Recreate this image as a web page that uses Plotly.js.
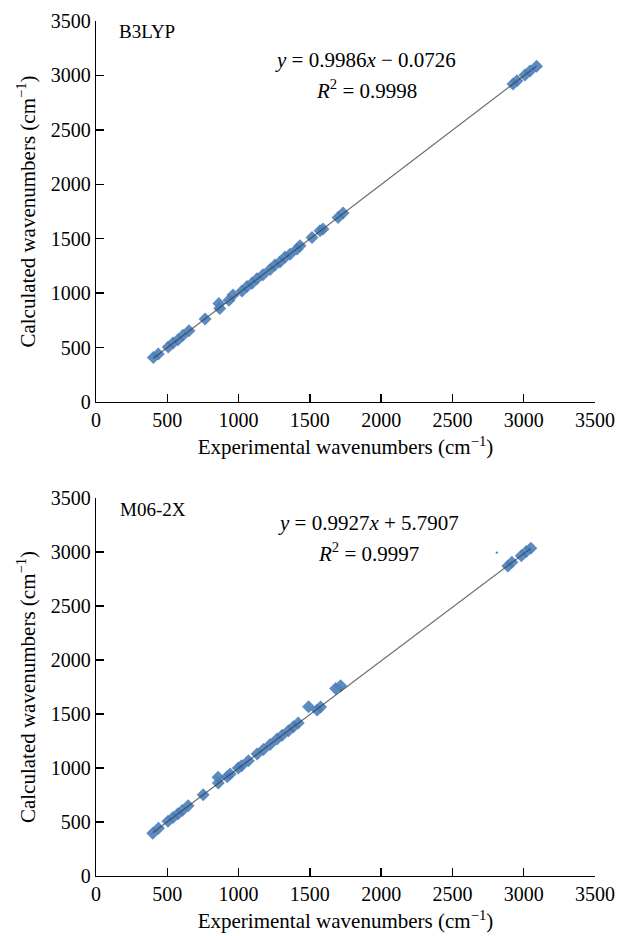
<!DOCTYPE html>
<html>
<head>
<meta charset="utf-8">
<script src="https://cdn.plot.ly/plotly-3.0.1.min.js"></script>
<style>html,body{margin:0;padding:0;background:#fff;}#chart{width:634px;height:936px;}</style>
</head>
<body>
<div id="chart"></div>
<script>
// B3LYP: experimental vs calculated wavenumbers (cm^-1)
const b3lypExp  = [402, 437, 507, 540, 575, 610, 652, 765, 862, 868, 933, 961, 1024, 1059, 1094, 1129, 1171, 1221, 1255, 1290, 1325, 1361, 1410, 1431, 1515, 1571, 1592, 1698, 1733, 2925, 2953, 3009, 3044, 3090];
const b3lypCalc = [408, 440, 505, 543, 572, 612, 655, 762, 905, 858, 935, 982, 1020, 1062, 1090, 1131, 1170, 1217, 1258, 1285, 1330, 1358, 1405, 1436, 1512, 1574, 1590, 1695, 1736, 2922, 2950, 3004, 3040, 3085];
// M06-2X
const m062xExp  = [398, 438, 505, 540, 575, 605, 646, 752, 856, 858, 920, 941, 998, 1021, 1069, 1130, 1174, 1221, 1270, 1306, 1350, 1385, 1418, 1491, 1551, 1575, 1681, 1716, 2889, 2917, 2983, 3018, 3050];
const m062xCalc = [396, 441, 508, 541, 576, 607, 650, 752, 915, 860, 920, 945, 1000, 1020, 1068, 1130, 1172, 1218, 1268, 1303, 1345, 1382, 1416, 1568, 1538, 1565, 1735, 1762, 2870, 2905, 2966, 3004, 3034];
const m062xStray = {x: [2811], y: [2994]};
// Linear fits (slope, intercept, R^2)
const fitB3lyp = {slope: 0.9986, intercept: -0.0726, r2: '0.9998', eq: '<i>y</i> = 0.9986<i>x</i> − 0.0726'};
const fitM062x = {slope: 0.9927, intercept: 5.7907, r2: '0.9997', eq: '<i>y</i> = 0.9927<i>x</i> + 5.7907'};
const axisTicks = [0, 500, 1000, 1500, 2000, 2500, 3000, 3500];
const methodLabels = ['B3LYP', 'M06-2X'];

const blue = '#4a7ebb';
const serif = '"Liberation Serif", "DejaVu Serif", serif';

function fitLine(xs, fit) {
  const lo = Math.min(...xs), hi = Math.max(...xs);
  return [[lo, hi], [fit.slope * lo + fit.intercept, fit.slope * hi + fit.intercept]];
}
const lb = fitLine(b3lypExp, fitB3lyp);
const lm = fitLine(m062xExp, fitM062x);

const markerStyle = {symbol: 'diamond', size: 10, color: blue, opacity: 0.9, line: {width: 0}};
const traces = [
  {x: b3lypExp, y: b3lypCalc, type: 'scatter', mode: 'markers', marker: markerStyle, xaxis: 'x', yaxis: 'y', showlegend: false},
  {x: lb[0], y: lb[1], type: 'scatter', mode: 'lines', line: {color: 'rgba(60,60,60,0.75)', width: 1.2}, xaxis: 'x', yaxis: 'y', showlegend: false},
  {x: m062xExp, y: m062xCalc, type: 'scatter', mode: 'markers', marker: markerStyle, xaxis: 'x2', yaxis: 'y2', showlegend: false},
  {x: m062xStray.x, y: m062xStray.y, type: 'scatter', mode: 'markers', marker: {symbol: 'square', size: 2, color: blue}, xaxis: 'x2', yaxis: 'y2', showlegend: false},
  {x: lm[0], y: lm[1], type: 'scatter', mode: 'lines', line: {color: 'rgba(60,60,60,0.75)', width: 1.2}, xaxis: 'x2', yaxis: 'y2', showlegend: false}
];

const xTitle = 'Experimental wavenumbers (cm<sup>−1</sup>)';
const yTitle = 'Calculated wavenumbers (cm<sup>−1</sup>)';
function ax(extra) {
  return Object.assign({
    range: [0, 3500], tickvals: axisTicks, ticktext: axisTicks.map(String),
    showgrid: false, zeroline: false, showline: true, linecolor: '#000', linewidth: 1.3,
    ticks: 'inside', ticklen: 8, tickwidth: 1.3, tickcolor: '#000',
    tickfont: {family: serif, size: 20, color: '#000'}, fixedrange: true
  }, extra);
}
const titleFont = {family: serif, size: 21, color: '#000'};

const layout = {
  width: 634, height: 936,
  margin: {l: 96, r: 39, t: 21, b: 60},
  paper_bgcolor: '#fff', plot_bgcolor: '#fff',
  font: {family: serif, color: '#000'},
  xaxis: ax({anchor: 'y', domain: [0, 1], title: {text: xTitle, font: titleFont, standoff: 9}}),
  yaxis: ax({anchor: 'x', domain: [0.5544, 1], title: {text: yTitle, font: titleFont, standoff: 9}}),
  xaxis2: ax({anchor: 'y2', domain: [0, 1], title: {text: xTitle, font: titleFont, standoff: 9}}),
  yaxis2: ax({anchor: 'x2', domain: [0, 0.4421], title: {text: yTitle, font: titleFont, standoff: 9}}),
  annotations: [
    {xref: 'x', yref: 'y', x: 145, y: 3408, text: methodLabels[0], showarrow: false, xanchor: 'left', font: {family: serif, size: 19}},
    {xref: 'x', yref: 'y', x: 1887, y: 3142, text: fitB3lyp.eq, showarrow: false, font: {family: serif, size: 21}},
    {xref: 'x', yref: 'y', x: 1894, y: 2875, text: '<i>R</i><sup>2</sup> = ' + fitB3lyp.r2, showarrow: false, font: {family: serif, size: 21}},
    {xref: 'x2', yref: 'y2', x: 155, y: 3389, text: methodLabels[1], showarrow: false, xanchor: 'left', font: {family: serif, size: 19}},
    {xref: 'x2', yref: 'y2', x: 1912, y: 3268, text: fitM062x.eq, showarrow: false, font: {family: serif, size: 21}},
    {xref: 'x2', yref: 'y2', x: 1912, y: 3000, text: '<i>R</i><sup>2</sup> = ' + fitM062x.r2, showarrow: false, font: {family: serif, size: 21}}
  ]
};

Plotly.newPlot('chart', traces, layout, {displayModeBar: false, staticPlot: true});
</script>
</body>
</html>
